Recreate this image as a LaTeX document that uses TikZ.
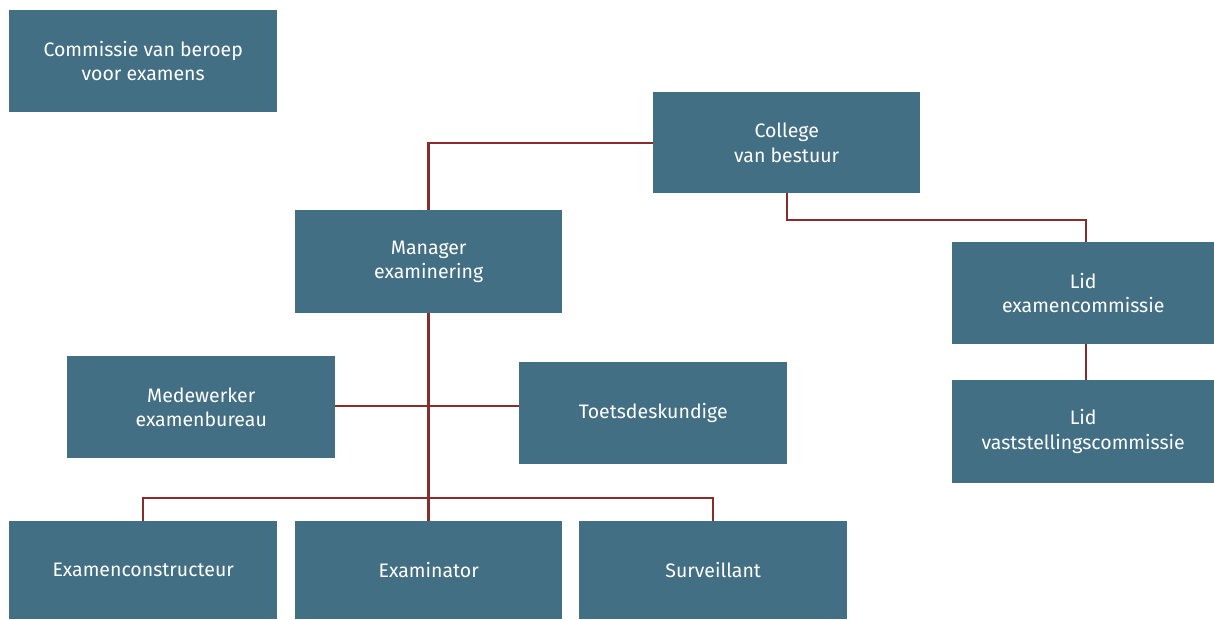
\documentclass[tikz,border=0pt]{standalone}
\usepackage{fontspec}
\setmainfont{Fira Sans}
\begin{document}
\begin{tikzpicture}[x=1pt,y=-1pt,
  box/.style={fill=boxblue, draw=none, text=white, inner sep=0pt, align=center,
    font=\fontsize{19.5}{24.5}\selectfont, anchor=north west},
  link/.style={draw=linkred, line width=2.6pt}]
\definecolor{boxblue}{HTML}{436F84}
\definecolor{linkred}{HTML}{8A2B2C}
\useasboundingbox (0,0) rectangle (1214,619);
\fill[white] (0,0) rectangle (1214,619);
% boxes
\node[box, minimum width=268pt, minimum height=102pt] (cvb) at (9,10) {Commissie van beroep\\voor examens};
\node[box, minimum width=267pt, minimum height=101pt] (cvbs) at (653,92) {College\\van bestuur};
\node[box, minimum width=267pt, minimum height=103pt] (man) at (295,210) {Manager\\examinering};
\node[box, minimum width=262pt, minimum height=102pt] (lex) at (952,242) {Lid\\examencommissie};
\node[box, minimum width=262pt, minimum height=103pt] (lvs) at (952,380) {Lid\\vaststellingscommissie};
\node[box, minimum width=268pt, minimum height=102pt] (med) at (67,356) {Medewerker\\examenbureau};
\node[box, minimum width=268pt, minimum height=102pt] (toe) at (519,362) {Toetsdeskundige};
\node[box, minimum width=268pt, minimum height=98pt] (exc) at (9,521) {Examenconstructeur};
\node[box, minimum width=267pt, minimum height=98pt] (exm) at (295,521) {Examinator};
\node[box, minimum width=268pt, minimum height=98pt] (sur) at (579,521) {Surveillant};
% connectors
\coordinate (j1) at (428.5,143);
\coordinate (j2a) at (787,220);
\coordinate (j2b) at (1086,220);
\coordinate (j3) at (143,498);
\coordinate (j4) at (713,498);
\coordinate (j5) at (428.5,406);
\draw[link] (cvbs.west |- j1) -- (j1) -- (j1 |- man.north);
\draw[link] (j2a |- cvbs.south) -- (j2a) -- (j2b) -- (j2b |- lex.north);
\draw[link] (j2b |- lex.south) -- (j2b |- lvs.north);
\draw[link] (j1 |- man.south) -- (j1 |- exm.north);
\draw[link] (med.east |- j5) -- (toe.west |- j5);
\draw[link] (j3 |- exc.north) -- (j3) -- (j4) -- (j4 |- sur.north);
\end{tikzpicture}
\end{document}
